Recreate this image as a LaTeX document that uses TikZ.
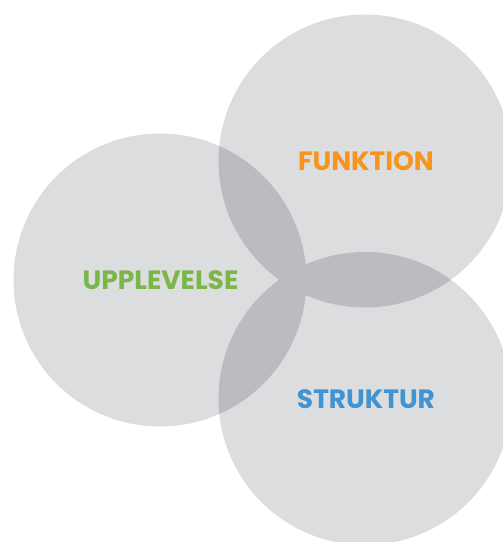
\documentclass[tikz,border=0pt]{standalone}
\usepackage{fontspec}
\setmainfont{Poppins}[UprightFont=* Bold]
\definecolor{cbase}{RGB}{220,221,223}
\definecolor{cover}{RGB}{187,188,191}
\definecolor{corange}{RGB}{247,148,29}
\definecolor{cgreen}{RGB}{122,182,72}
\definecolor{cblue}{RGB}{64,148,211}
\tikzset{
  lbl/.style={font=\fontsize{26.5}{26.5}\selectfont, inner sep=0pt}
}
\begin{document}
\begin{tikzpicture}[x=1pt,y=1pt]
\useasboundingbox (0,0) rectangle (503,542);
\clip (0,0) rectangle (503,542);
\def\cA{(160,262) circle [radius=146.5]}
\def\cB{(365,381) circle [radius=146.5]}
\def\cC{(365,143.5) circle [radius=146.5]}
\fill[cbase] \cA;
\fill[cbase] \cB;
\fill[cbase] \cC;
\begin{scope}\clip \cA; \fill[cover] \cB; \end{scope}
\begin{scope}\clip \cA; \fill[cover] \cC; \end{scope}
\begin{scope}\clip \cB; \fill[cover] \cC; \end{scope}
\node[lbl, text=corange] (funktion) at (366,380.5) {FUNKTION};
\node[lbl, text=cgreen] (upplevelse) at (160.5,262) {UPPLEVELSE};
\node[lbl, text=cblue] (struktur) at (366,143) {STRUKTUR};
\end{tikzpicture}
\end{document}
